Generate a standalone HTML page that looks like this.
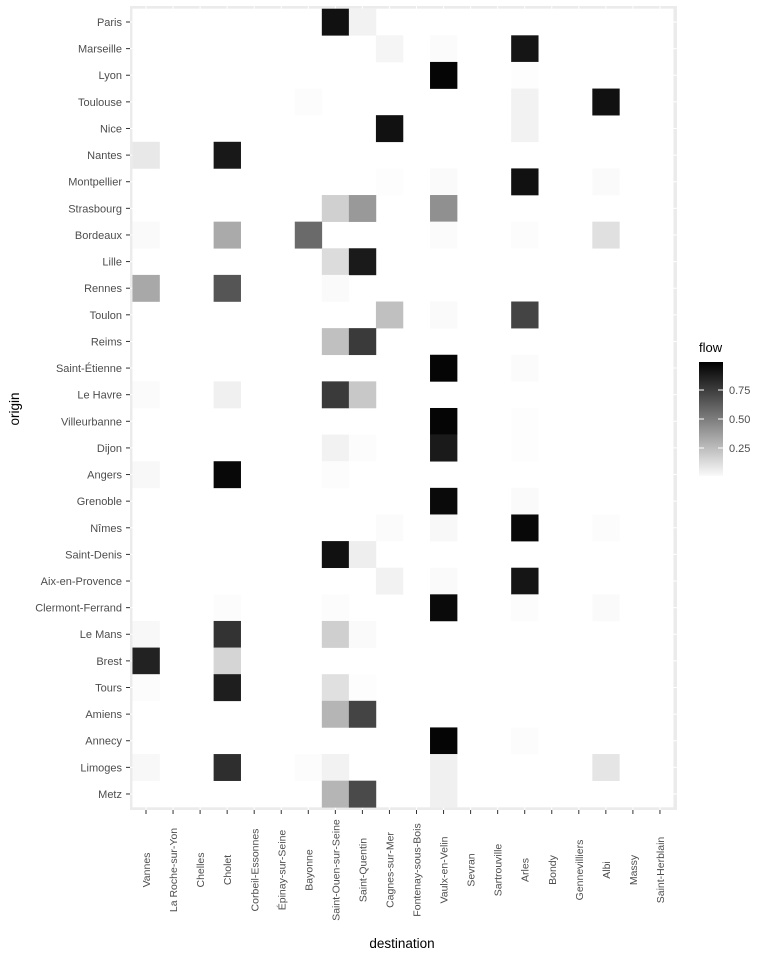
<!DOCTYPE html>
<html><head><meta charset="utf-8"><style>body{margin:0;background:#fff}svg{display:block}text{font-family:"Liberation Sans",Arial,sans-serif}</style></head>
<body>
<svg id="s" width="768" height="960" viewBox="0 0 768 960" xmlns="http://www.w3.org/2000/svg">
<defs><linearGradient id="g" x1="0" y1="0" x2="0" y2="1"><stop offset="0" stop-color="#000"/><stop offset="1" stop-color="#fafafa"/></linearGradient></defs>
<rect x="130" y="6" width="547" height="804" fill="#ebebeb"/>
<g id="grid" stroke="#fff" stroke-width="1"></g>
<g id="tiles"></g>
<g font-size="11" fill="#4d4d4d" text-anchor="end">
<text x="122" y="26">Paris</text><text x="122" y="52.6">Marseille</text><text x="122" y="79.2">Lyon</text><text x="122" y="105.9">Toulouse</text><text x="122" y="132.5">Nice</text><text x="122" y="159.1">Nantes</text><text x="122" y="185.7">Montpellier</text><text x="122" y="212.3">Strasbourg</text><text x="122" y="239">Bordeaux</text><text x="122" y="265.6">Lille</text><text x="122" y="292.2">Rennes</text><text x="122" y="318.8">Toulon</text><text x="122" y="345.4">Reims</text><text x="122" y="372">Saint-Étienne</text><text x="122" y="398.7">Le Havre</text><text x="122" y="425.3">Villeurbanne</text><text x="122" y="451.9">Dijon</text><text x="122" y="478.5">Angers</text><text x="122" y="505.1">Grenoble</text><text x="122" y="531.8">Nîmes</text><text x="122" y="558.4">Saint-Denis</text><text x="122" y="585">Aix-en-Provence</text><text x="122" y="611.6">Clermont-Ferrand</text><text x="122" y="638.2">Le Mans</text><text x="122" y="664.9">Brest</text><text x="122" y="691.5">Tours</text><text x="122" y="718.1">Amiens</text><text x="122" y="744.7">Annecy</text><text x="122" y="771.3">Limoges</text><text x="122" y="798">Metz</text>
</g>
<g font-size="10.5" fill="#4d4d4d" text-anchor="middle">
<text transform="translate(150,870) rotate(-90)">Vannes</text>
<text transform="translate(177,870) rotate(-90)">La Roche-sur-Yon</text>
<text transform="translate(204,870) rotate(-90)">Chelles</text>
<text transform="translate(231,870) rotate(-90)">Cholet</text>
<text transform="translate(258.3,870) rotate(-90)">Corbeil-Essonnes</text>
<text transform="translate(285.3,870) rotate(-90)">Épinay-sur-Seine</text>
<text transform="translate(312.4,870) rotate(-90)">Bayonne</text>
<text transform="translate(339.4,870) rotate(-90)">Saint-Ouen-sur-Seine</text>
<text transform="translate(366.5,870) rotate(-90)">Saint-Quentin</text>
<text transform="translate(393.5,870) rotate(-90)">Cagnes-sur-Mer</text>
<text transform="translate(420.6,870) rotate(-90)">Fontenay-sous-Bois</text>
<text transform="translate(447.6,870) rotate(-90)">Vaulx-en-Velin</text>
<text transform="translate(474.6,870) rotate(-90)">Sevran</text>
<text transform="translate(501.7,870) rotate(-90)">Sartrouville</text>
<text transform="translate(528.7,870) rotate(-90)">Arles</text>
<text transform="translate(555.8,870) rotate(-90)">Bondy</text>
<text transform="translate(582.8,870) rotate(-90)">Gennevilliers</text>
<text transform="translate(609.9,870) rotate(-90)">Albi</text>
<text transform="translate(636.9,870) rotate(-90)">Massy</text>
<text transform="translate(664,870) rotate(-90)">Saint-Herblain</text>
</g>
<g id="ticks" stroke="#333" stroke-width="1"></g>
<text x="402" y="948" font-size="13.5" text-anchor="middle" fill="#000">destination</text>
<text transform="translate(19,409) rotate(-90)" font-size="13.5" text-anchor="middle" fill="#000">origin</text>
<text x="699" y="352" font-size="13" fill="#000">flow</text>
<rect x="699" y="362" width="24" height="114" fill="url(#g)"/>
<g stroke="#fff" stroke-width="1"><line x1="699" y1="390" x2="704" y2="390"/><line x1="718" y1="390" x2="723" y2="390"/><line x1="699" y1="419" x2="704" y2="419"/><line x1="718" y1="419" x2="723" y2="419"/><line x1="699" y1="448" x2="704" y2="448"/><line x1="718" y1="448" x2="723" y2="448"/></g>
<g font-size="11" fill="#4d4d4d"><text x="729" y="394">0.75</text><text x="729" y="423">0.50</text><text x="729" y="452">0.25</text></g>
</svg>
<script>
var NS="http://www.w3.org/2000/svg";
function el(p,t,a){var e=document.createElementNS(NS,t);for(var k in a)e.setAttribute(k,a[k]);document.getElementById(p).appendChild(e);}
var cw=27.05,rh=26.62,x0=146,y0=22;
for(var i=0;i<20;i++){var x=x0+i*cw;el("grid","line",{x1:x,y1:6,x2:x,y2:810});el("ticks","line",{x1:x,y1:810,x2:x,y2:814});}
for(var j=0;j<30;j++){var y=y0+j*rh;el("grid","line",{x1:130,y1:y,x2:677,y2:y});el("ticks","line",{x1:126,y1:y,x2:130,y2:y});}
var d={
0:{7:"#111",8:"#f2f2f2"},
1:{9:"#f5f5f5",11:"#fbfbfb",14:"#151515"},
2:{11:"#050505",14:"#fdfdfd"},
3:{6:"#fcfcfc",14:"#f2f2f2",17:"#111"},
4:{9:"#111",14:"#f2f2f2"},
5:{0:"#e8e8e8",3:"#181818"},
6:{9:"#fdfdfd",11:"#fafafa",14:"#111",17:"#fafafa"},
7:{7:"#d0d0d0",8:"#999",11:"#909090"},
8:{0:"#fafafa",3:"#aaa",6:"#6a6a6a",11:"#fbfbfb",14:"#fcfcfc",17:"#e0e0e0"},
9:{7:"#dcdcdc",8:"#1a1a1a"},
10:{0:"#a8a8a8",3:"#555",7:"#fafafa"},
11:{9:"#c0c0c0",11:"#fafafa",14:"#444"},
12:{7:"#c0c0c0",8:"#3a3a3a"},
13:{11:"#050505",14:"#fbfbfb"},
14:{0:"#fbfbfb",3:"#f0f0f0",7:"#3a3a3a",8:"#c8c8c8"},
15:{11:"#050505",14:"#fdfdfd"},
16:{7:"#f2f2f2",8:"#fcfcfc",11:"#1a1a1a",14:"#fdfdfd"},
17:{0:"#f8f8f8",3:"#080808",7:"#fcfcfc"},
18:{11:"#0a0a0a",14:"#fafafa"},
19:{9:"#fbfbfb",11:"#f8f8f8",14:"#080808",17:"#fcfcfc"},
20:{7:"#111",8:"#eeeeee"},
21:{9:"#f2f2f2",11:"#fafafa",14:"#151515"},
22:{3:"#fcfcfc",7:"#fcfcfc",11:"#0a0a0a",14:"#fcfcfc",17:"#fafafa"},
23:{0:"#f8f8f8",3:"#333",7:"#cfcfcf",8:"#fafafa"},
24:{0:"#222",3:"#d5d5d5"},
25:{0:"#fcfcfc",3:"#1e1e1e",7:"#e0e0e0",8:"#fdfdfd"},
26:{7:"#b5b5b5",8:"#444"},
27:{11:"#050505",14:"#fcfcfc"},
28:{0:"#f8f8f8",3:"#2e2e2e",6:"#fcfcfc",7:"#f2f2f2",11:"#f0f0f0",17:"#e5e5e5"},
29:{7:"#b5b5b5",8:"#4a4a4a",11:"#f0f0f0"}};
el("tiles","rect",{x:x0-cw/2,y:y0-rh/2,width:cw*20,height:rh*30,fill:"#fff"});
for(var r in d)for(var c in d[r])el("tiles","rect",{x:x0+c*cw-cw/2,y:y0+r*rh-rh/2,width:cw+0.3,height:rh+0.3,fill:d[r][c]});
</script>
</body></html>
